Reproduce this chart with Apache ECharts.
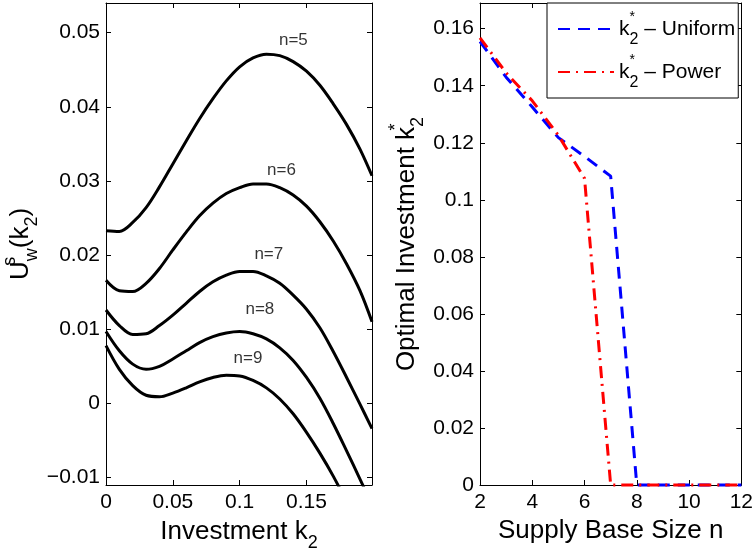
<!DOCTYPE html>
<html>
<head>
<meta charset="utf-8">
<script src="https://cdn.jsdelivr.net/npm/echarts@6/dist/echarts.min.js"></script>
<style>
html,body{margin:0;padding:0;background:#fff;}
#chart{width:756px;height:557px;}
</style>
</head>
<body>
<div id="chart"></div>
<script>
// ---------- Data: left panel (U_w^s(k2) vs k2) ----------
const kGrid = [0, 0.01, 0.02, 0.03, 0.04, 0.05, 0.06, 0.07, 0.08, 0.09, 0.10,
               0.11, 0.12, 0.13, 0.14, 0.15, 0.16, 0.17, 0.18, 0.19, 0.199];
const u5 = [0.0233, 0.0232, 0.0244, 0.0264, 0.0292, 0.0323, 0.0354, 0.0384, 0.0411, 0.0435, 0.0454,
            0.0466, 0.0471, 0.0469, 0.0461, 0.0448, 0.0429, 0.0404, 0.0376, 0.0343, 0.0307];
const u6 = [0.0166, 0.0152, 0.0151, 0.0162, 0.0182, 0.0207, 0.0231, 0.0253, 0.0270, 0.0283, 0.0291,
            0.0296, 0.0296, 0.0291, 0.0281, 0.0266, 0.0245, 0.0219, 0.0188, 0.0152, 0.0110];
const u7 = [0.0126, 0.0105, 0.0093, 0.0094, 0.0105, 0.0119, 0.0135, 0.0151, 0.0164, 0.0173, 0.0178,
            0.0178, 0.0172, 0.0162, 0.0146, 0.0127, 0.0102, 0.0070, 0.0035, -0.0001, -0.0034];
const u8 = [0.0097, 0.0071, 0.0053, 0.0046, 0.0050, 0.0060, 0.0071, 0.0082, 0.0090, 0.0095, 0.0097,
            0.0094, 0.0087, 0.0075, 0.0058, 0.0035, 0.0007, -0.0027, -0.0064, -0.0102, -0.0137];
const u9 = [0.0078, 0.0046, 0.0024, 0.0011, 0.0009, 0.0014, 0.0021, 0.0029, 0.0035, 0.0038, 0.0037,
            0.0031, 0.0021, 0.0006, -0.0014, -0.0039, -0.0067, -0.0098, -0.0133, -0.0171, -0.0206];
const curveNames = ['n=5', 'n=6', 'n=7', 'n=8', 'n=9'];
const labelK = [0.1402, 0.1313, 0.1218, 0.1151, 0.1062];
const labelU = [0.0490, 0.0315, 0.0201, 0.0127, 0.0061];
const leftXTicks = [0, 0.05, 0.1, 0.15];
const leftYTicks = [-0.01, 0, 0.01, 0.02, 0.03, 0.04, 0.05];

// ---------- Data: right panel (optimal k2* vs n) ----------
const nValues = [2, 3, 4, 5, 6, 7, 8, 9, 10, 11, 12];
const kUniform = [0.1555, 0.1430, 0.1325, 0.1218, 0.1152, 0.1083, 0, 0, 0, 0, 0];
const kPower   = [0.1568, 0.1445, 0.1347, 0.1226, 0.1075, 0, 0, 0, 0, 0, 0];
const rightXTicks = [2, 4, 6, 8, 10, 12];
const rightYTicks = [0, 0.02, 0.04, 0.06, 0.08, 0.1, 0.12, 0.14, 0.16];

const FONT = 'Liberation Sans';
const fmtNum = v => (v < 0 ? '\u2212' + String(-v) : String(v));
const pair = (xs, ys) => xs.map((x, i) => [x, ys[i]]);

const subSupRich = {
  m:   { fontFamily: FONT, fontSize: 26, color: '#000', lineHeight: 40, verticalAlign: 'middle' },
  sup: { fontFamily: FONT, fontSize: 18, color: '#000', lineHeight: 18, verticalAlign: 'top', width: 0 },
  sub: { fontFamily: FONT, fontSize: 18, color: '#000', lineHeight: 18, verticalAlign: 'bottom' }
};

function valueAxis(gridIndex, pos, min, max, ticks, showLabels, extra) {
  return Object.assign({
    type: 'value', gridIndex, position: pos, min, max,
    splitLine: { show: false },
    axisLine: { show: true, onZero: false, lineStyle: { color: '#000', width: 1 } },
    axisTick: { show: true, inside: true, length: 5, customValues: ticks, lineStyle: { color: '#000' } },
    axisLabel: showLabels ? {
      show: true, customValues: ticks, formatter: fmtNum,
      fontFamily: FONT, fontSize: 21, color: '#000', margin: pos === 'left' ? 6 : 7
    } : { show: false }
  }, extra || {});
}

const chart = echarts.init(document.getElementById('chart'), null, { renderer: 'canvas' });

const curveData = [u5, u6, u7, u8, u9];
const series = curveData.map((ys, i) => ({
  name: curveNames[i], type: 'line', xAxisIndex: 0, yAxisIndex: 0,
  data: pair(kGrid, ys), smooth: 0.35, showSymbol: false, symbol: 'none',
  lineStyle: { color: '#000', width: 3 }, clip: true, silent: true
}));
series.push({
  name: 'labels', type: 'scatter', xAxisIndex: 0, yAxisIndex: 0,
  data: labelK.map((k, i) => ({ name: curveNames[i], value: [k, labelU[i]] })),
  symbolSize: 1, itemStyle: { color: 'rgba(0,0,0,0)' }, silent: true,
  label: { show: true, position: 'inside', formatter: p => p.name, fontFamily: FONT, fontSize: 17, color: '#000', textBorderWidth: 0 }
});
series.push({
  name: 'Uniform', type: 'line', xAxisIndex: 2, yAxisIndex: 2,
  data: pair(nValues, kUniform), showSymbol: false, symbol: 'none',
  lineStyle: { color: '#0000ff', width: 3, type: [12, 8] }, itemStyle: { color: '#0000ff' }, clip: false
});
series.push({
  name: 'Power', type: 'line', xAxisIndex: 2, yAxisIndex: 2,
  data: pair(nValues, kPower), showSymbol: false, symbol: 'none',
  lineStyle: { color: '#ff0000', width: 3, type: [12, 6, 2, 6] }, itemStyle: { color: '#ff0000' }, clip: false
});

const legendRich = {
  k:   { fontFamily: FONT, fontSize: 21, color: '#000', lineHeight: 38, verticalAlign: 'middle' },
  sup: { fontFamily: FONT, fontSize: 14, color: '#000', lineHeight: 14, verticalAlign: 'top', width: 0 },
  sub: { fontFamily: FONT, fontSize: 16, color: '#000', lineHeight: 16, verticalAlign: 'bottom' },
  t:   { fontFamily: FONT, fontSize: 21, color: '#000', lineHeight: 38, verticalAlign: 'middle' }
};

chart.setOption({
  animation: false,
  backgroundColor: '#fff',
  grid: [
    { left: 104, top: 3, width: 268, height: 482, containLabel: false },
    { left: 480, top: 3, width: 262, height: 482, containLabel: false }
  ],
  xAxis: [
    valueAxis(0, 'bottom', 0, 0.199, leftXTicks, true, {
      name: '{m|Investment k}{sub|2}', nameLocation: 'middle', nameGap: 27,
      nameTextStyle: { rich: subSupRich }
    }),
    valueAxis(0, 'top', 0, 0.199, leftXTicks, false),
    valueAxis(1, 'bottom', 2, 12, rightXTicks, true, {
      name: '{m|Supply Base Size n}', nameLocation: 'middle', nameGap: 23,
      nameTextStyle: { rich: subSupRich }
    }),
    valueAxis(1, 'top', 2, 12, rightXTicks, false)
  ],
  yAxis: [
    valueAxis(0, 'left', -0.011, 0.054, leftYTicks, true, {
      name: '{m|U}{sup|s}{sub|w}{m|(k}{sub|2}{m|)}', nameLocation: 'middle', nameRotate: 90, nameGap: 65,
      nameTextStyle: { rich: subSupRich }
    }),
    valueAxis(0, 'right', -0.011, 0.054, leftYTicks, false),
    valueAxis(1, 'left', 0, 0.169, rightYTicks, true, {
      name: '{m|Optimal Investment k}{sup|*}{sub|2}', nameLocation: 'middle', nameRotate: 90, nameGap: 53,
      nameTextStyle: { rich: subSupRich }
    }),
    valueAxis(1, 'right', 0, 0.169, rightYTicks, false)
  ],
  legend: {
    data: ['Uniform', 'Power'],
    orient: 'vertical', left: 547, top: 3,
    padding: [7, 3, 7, 10], itemGap: 5,
    itemWidth: 56, itemHeight: 12,
    itemStyle: { opacity: 0 },
    backgroundColor: '#fff', borderColor: '#000', borderWidth: 1, borderRadius: 0,
    selectedMode: false,
    formatter: name => '{k|k}{sup|*}{sub|2}{t| \u2013 ' + name + '}',
    textStyle: { rich: legendRich, fontFamily: FONT, fontSize: 21, color: '#000' }
  },
  series
});
</script>
</body>
</html>
